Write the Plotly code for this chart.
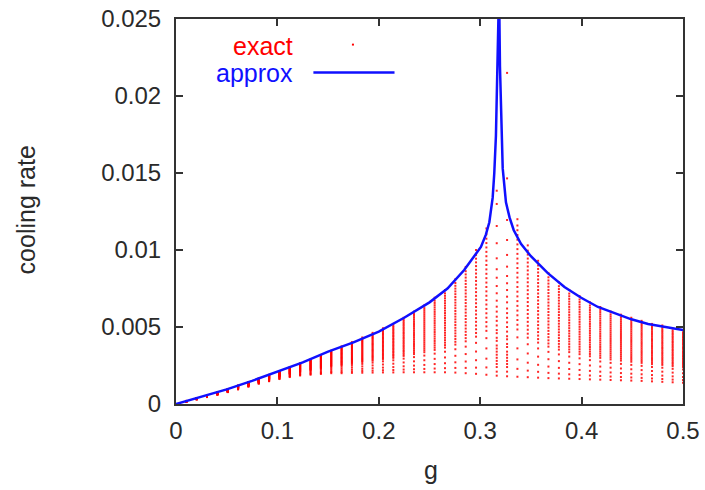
import plotly.graph_objects as go

# ---------------- data ----------------
# "exact": columns of points at discrete g values
col_g = [0.0102, 0.0204, 0.0306, 0.0408, 0.0510, 0.0612, 0.0714, 0.0816, 0.0918, 0.1020,
         0.1122, 0.1224, 0.1327, 0.1429, 0.1531, 0.1633, 0.1735, 0.1837, 0.1939, 0.2041,
         0.2143, 0.2245, 0.2347, 0.2449, 0.2551, 0.2653, 0.2755, 0.2857, 0.2959, 0.3061,
         0.3163, 0.3265, 0.3367, 0.3469, 0.3571, 0.3673, 0.3776, 0.3878, 0.3980, 0.4082,
         0.4184, 0.4286, 0.4388, 0.4490, 0.4592, 0.4694, 0.4796, 0.4898, 0.5000]
col_top = [0.0002, 0.00037, 0.00056, 0.00076, 0.00097, 0.0012, 0.00142, 0.00166, 0.0019, 0.00214,
           0.0024, 0.00265, 0.0029, 0.00318, 0.00346, 0.00374, 0.00402, 0.00432, 0.00462, 0.00492,
           0.0052, 0.0056, 0.006, 0.0064, 0.0069, 0.0074, 0.0081, 0.0089, 0.0100, 0.0114,
           0.01385, 0.01465, 0.0120, 0.0103, 0.0093, 0.0085, 0.0079, 0.0074, 0.0070, 0.0066,
           0.0063, 0.0060, 0.0058, 0.0056, 0.0054, 0.0052, 0.0051, 0.0049, 0.0048]
col_bottom = [0.00016, 0.0003, 0.00045, 0.0006, 0.00077, 0.00095, 0.00113, 0.00132, 0.00148, 0.00162,
              0.00175, 0.00185, 0.0019, 0.00195, 0.002, 0.002, 0.00202, 0.00203, 0.00204, 0.00205,
              0.00205, 0.00206, 0.00206, 0.00206, 0.00206, 0.00206, 0.00204, 0.002, 0.00196, 0.0019,
              0.00184, 0.0018, 0.00177, 0.00174, 0.00171, 0.00168, 0.00166, 0.00164, 0.00162, 0.0016,
              0.00158, 0.00156, 0.00154, 0.00152, 0.0015, 0.00147, 0.00144, 0.00141, 0.00138]
# relative position of the points inside a column (0 = lowest, 1 = highest)
col_profile = [0.0, 0.05, 0.11, 0.18, 0.25, 0.30, 0.33, 0.36, 0.39, 0.42, 0.45, 0.48, 0.51, 0.54,
               0.57, 0.60, 0.63, 0.66, 0.69, 0.72, 0.75, 0.78, 0.81, 0.84, 0.87, 0.90, 0.93, 0.96, 1.0]
# columns next to the resonance, read point by point
special_g = [0.3163, 0.3265]
special_vals = [
    [0.01385, 0.01299, 0.01156, 0.01044, 0.00946, 0.00875, 0.0082, 0.00766, 0.00719, 0.00671,
     0.00632, 0.006, 0.00567, 0.0054, 0.0051, 0.0048, 0.0046, 0.0043, 0.0041, 0.0038, 0.0036,
     0.0034, 0.0032, 0.003, 0.0028, 0.0026, 0.0024, 0.0021, 0.00184],
    [0.0215, 0.01465, 0.01195, 0.01065, 0.00968, 0.00892, 0.00831, 0.00784, 0.0074, 0.00697,
     0.0066, 0.0062, 0.0059, 0.0056, 0.0053, 0.005, 0.0047, 0.0044, 0.0042, 0.0039, 0.0037,
     0.0034, 0.0032, 0.003, 0.0028, 0.0026, 0.0024, 0.0021, 0.0018],
]
origin_g = [0.0]
origin_v = [0.0]

# "approx": smooth curve with a resonance near g = 0.318
approx_g = [0.0, 0.025, 0.05, 0.075, 0.1, 0.125, 0.15, 0.175, 0.2, 0.225, 0.25, 0.2677, 0.2842,
            0.2958, 0.3007, 0.3056, 0.309, 0.3123, 0.3139, 0.3155, 0.3172, 0.3180, 0.3186,
            0.3195, 0.3212, 0.3222, 0.3254, 0.3290, 0.3330, 0.3402, 0.350, 0.3667, 0.3831,
            0.3996, 0.4161, 0.4326, 0.4491, 0.4656, 0.482, 0.5]
approx_v = [0.0, 0.00045, 0.00095, 0.0015, 0.0021, 0.0027, 0.0034, 0.0040, 0.0047, 0.0056, 0.0066,
            0.0075, 0.0087, 0.0097, 0.0102, 0.0110, 0.0118, 0.0134, 0.0150, 0.0174, 0.0219, 0.027,
            0.027, 0.0219, 0.0174, 0.0153, 0.0131, 0.0121, 0.0113, 0.0104, 0.0096, 0.0085, 0.0076,
            0.0069, 0.0063, 0.0059, 0.0055, 0.0052, 0.0050, 0.0048]

x_ticks = [0, 0.1, 0.2, 0.3, 0.4, 0.5]
x_labels = ["0", "0.1", "0.2", "0.3", "0.4", "0.5"]
y_ticks = [0, 0.005, 0.01, 0.015, 0.02, 0.025]
y_labels = ["0", "0.005", "0.01", "0.015", "0.02", "0.025"]

# ---------------- build exact point cloud ----------------
ex_x, ex_y = list(origin_g), list(origin_v)
for g, top, bot in zip(col_g, col_top, col_bottom):
    if g in special_g:
        vals = special_vals[special_g.index(g)]
    else:
        vals = [bot + f * (top - bot) for f in col_profile]
    ex_x += [g] * len(vals)
    ex_y += vals

FONT = "Liberation Sans, Arial, sans-serif"
RED = "#ff0000"
BLUE = "#1010ff"
TXT = "#2a2a2a"

fig = go.Figure()
fig.add_trace(go.Scatter(x=ex_x, y=ex_y, mode="markers", name="exact",
                         marker=dict(symbol="square", size=2, color=RED, opacity=0.85,
                                     line=dict(width=0)),
                         showlegend=False))
fig.add_trace(go.Scatter(x=approx_g, y=approx_v, mode="lines", name="approx",
                         line=dict(color=BLUE, width=2.5), showlegend=False))

axis_common = dict(showline=True, linecolor="#333333", linewidth=2, mirror="allticks",
                   ticks="inside", ticklen=7, tickwidth=1.5, tickcolor="#333333",
                   showgrid=False, zeroline=False, automargin=False,
                   tickfont=dict(family=FONT, size=24, color=TXT))
fig.update_xaxes(range=[0, 0.5], tickvals=x_ticks, ticktext=x_labels,
                 ticklabelstandoff=4, **axis_common)
fig.update_yaxes(range=[0, 0.025], tickvals=y_ticks, ticktext=y_labels,
                 ticklabelstandoff=8, **axis_common)

# legend drawn gnuplot style (text left of sample)
annos = [
    dict(text="exact", x=0.235, y=0.931, xanchor="right", yanchor="middle",
         font=dict(family=FONT, size=25, color=RED)),
    dict(text="approx", x=0.235, y=0.861, xanchor="right", yanchor="middle",
         font=dict(family=FONT, size=25, color=BLUE)),
    dict(text="cooling rate", x=-0.295, y=0.504, textangle=-90, xanchor="center", yanchor="middle",
         font=dict(family=FONT, size=25, color=TXT)),
    dict(text="g", x=0.502, y=-0.171, xanchor="center", yanchor="middle",
         font=dict(family=FONT, size=25, color=TXT)),
]
for a in annos:
    a.update(xref="paper", yref="paper", showarrow=False)

shapes = [
    dict(type="line", xref="paper", yref="paper", x0=0.271, x1=0.431, y0=0.861, y1=0.861,
         line=dict(color=BLUE, width=2.5)),
    dict(type="rect", xref="paper", yref="paper", x0=0.347, x1=0.351, y0=0.931, y1=0.936,
         line=dict(width=0), fillcolor=RED),
]

fig.update_layout(width=705, height=490, margin=dict(l=176, r=22, t=19, b=86),
                  paper_bgcolor="white", plot_bgcolor="white",
                  annotations=annos, shapes=shapes, showlegend=False)

fig.write_html("out.html")
